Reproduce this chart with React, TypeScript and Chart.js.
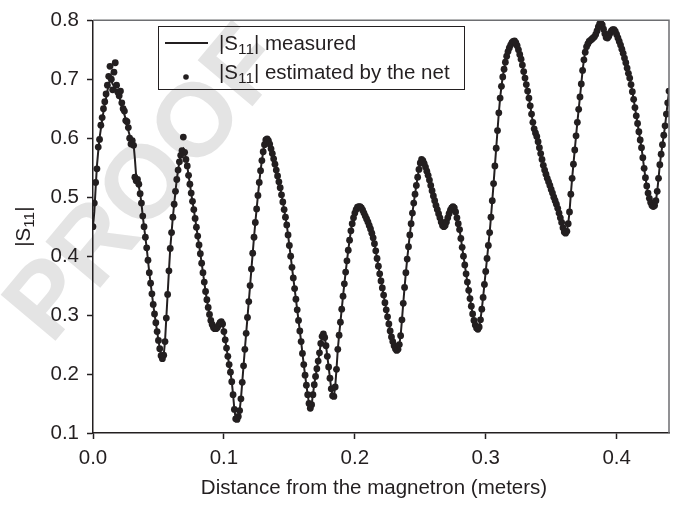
import React, { useEffect, useRef } from "react";
import { Chart, registerables } from "chart.js";

Chart.register(...registerables);

// ---- data ----
const DIST_STEP = 0.001; // metres between samples
const xTickValues = [0.0, 0.1, 0.2, 0.3, 0.4];
const yTickValues = [0.1, 0.2, 0.3, 0.4, 0.5, 0.6, 0.7, 0.8];
const xTitle = "Distance from the magnetron (meters)";
const legendMeasured = "measured";
const legendEstimated = "estimated by the net";
const watermarkText = "PROOF";

// |S11| measured (solid line), one value every 1 mm from 0.000 m to 0.440 m
const measured = [
  0.450, 0.475, 0.515, 0.553, 0.578, 0.600, 0.616, 0.631, 0.645, 0.658,
  0.668, 0.680, 0.692, 0.698, 0.697, 0.692, 0.688, 0.685, 0.680, 0.676,
  0.670, 0.663, 0.656, 0.648, 0.640, 0.632, 0.623, 0.613, 0.605, 0.598,
  0.593, 0.590, 0.565, 0.535, 0.526, 0.518, 0.506, 0.490, 0.468, 0.450,
  0.432, 0.414, 0.393, 0.372, 0.354, 0.336, 0.318, 0.302, 0.287, 0.272,
  0.257, 0.243, 0.231, 0.226, 0.232, 0.255, 0.295, 0.335, 0.375, 0.413,
  0.440, 0.466, 0.488, 0.510, 0.530, 0.546, 0.560, 0.571, 0.579, 0.582,
  0.576, 0.564, 0.553, 0.537, 0.522, 0.507, 0.493, 0.479, 0.464, 0.449,
  0.434, 0.419, 0.404, 0.388, 0.372, 0.356, 0.340, 0.326, 0.313, 0.301,
  0.291, 0.284, 0.279, 0.277, 0.277, 0.279, 0.283, 0.287, 0.289, 0.285,
  0.272, 0.258, 0.244, 0.230, 0.216, 0.203, 0.187, 0.165, 0.140, 0.124,
  0.123, 0.128, 0.138, 0.158, 0.186, 0.214, 0.242, 0.269, 0.296, 0.323,
  0.350, 0.378, 0.405, 0.432, 0.457, 0.480, 0.503, 0.525, 0.545, 0.562,
  0.577, 0.589, 0.597, 0.599, 0.596, 0.590, 0.582, 0.574, 0.565, 0.556,
  0.546, 0.536, 0.526, 0.516, 0.504, 0.492, 0.479, 0.466, 0.453, 0.436,
  0.418, 0.400, 0.381, 0.363, 0.345, 0.327, 0.309, 0.291, 0.273, 0.255,
  0.235, 0.216, 0.198, 0.181, 0.165, 0.150, 0.142, 0.148, 0.165, 0.182,
  0.196, 0.209, 0.222, 0.236, 0.252, 0.264, 0.268, 0.262, 0.248, 0.230,
  0.212, 0.193, 0.175, 0.163, 0.162, 0.178, 0.208, 0.242, 0.266, 0.288,
  0.310, 0.332, 0.353, 0.373, 0.392, 0.410, 0.427, 0.443, 0.455, 0.465,
  0.473, 0.479, 0.483, 0.484, 0.484, 0.482, 0.478, 0.473, 0.468, 0.463,
  0.458, 0.452, 0.446, 0.439, 0.431, 0.421, 0.409, 0.396, 0.383, 0.370,
  0.358, 0.346, 0.334, 0.321, 0.309, 0.297, 0.285, 0.273, 0.263, 0.255,
  0.248, 0.243, 0.240, 0.242, 0.250, 0.265, 0.292, 0.320, 0.347, 0.372,
  0.395, 0.416, 0.436, 0.455, 0.473, 0.490, 0.505, 0.520, 0.534, 0.547,
  0.558, 0.564, 0.562, 0.557, 0.551, 0.544, 0.537, 0.529, 0.520, 0.511,
  0.502, 0.494, 0.486, 0.479, 0.472, 0.465, 0.458, 0.452, 0.450, 0.452,
  0.458, 0.465, 0.472, 0.478, 0.482, 0.484, 0.482, 0.475, 0.465, 0.455,
  0.445, 0.430, 0.415, 0.400, 0.385, 0.370, 0.356, 0.342, 0.328, 0.315,
  0.302, 0.291, 0.283, 0.278, 0.276, 0.280, 0.292, 0.310, 0.330, 0.352,
  0.374, 0.396, 0.418, 0.440, 0.466, 0.494, 0.523, 0.553, 0.583, 0.613,
  0.643, 0.668, 0.688, 0.704, 0.717, 0.729, 0.739, 0.747, 0.753, 0.758,
  0.762, 0.764, 0.765, 0.762, 0.757, 0.750, 0.742, 0.734, 0.724, 0.713,
  0.702, 0.691, 0.680, 0.668, 0.655, 0.641, 0.627, 0.616, 0.609, 0.603,
  0.594, 0.584, 0.574, 0.564, 0.554, 0.546, 0.539, 0.532, 0.526, 0.520,
  0.513, 0.507, 0.500, 0.494, 0.488, 0.481, 0.473, 0.465, 0.457, 0.448,
  0.441, 0.439, 0.442, 0.455, 0.475, 0.505, 0.532, 0.556, 0.580, 0.604,
  0.627, 0.649, 0.670, 0.692, 0.715, 0.733, 0.746, 0.755, 0.760, 0.764,
  0.766, 0.768, 0.770, 0.772, 0.776, 0.782, 0.789, 0.794, 0.795, 0.792,
  0.785, 0.777, 0.771, 0.770, 0.773, 0.778, 0.782, 0.784, 0.784, 0.781,
  0.776, 0.770, 0.764, 0.758, 0.751, 0.744, 0.736, 0.728, 0.719, 0.710,
  0.702, 0.691, 0.679, 0.666, 0.652, 0.638, 0.625, 0.611, 0.597, 0.584,
  0.567, 0.549, 0.533, 0.519, 0.507, 0.498, 0.491, 0.486, 0.484, 0.486,
  0.494, 0.510, 0.532, 0.555, 0.573, 0.589, 0.605, 0.621, 0.641, 0.660,
  0.680,
];

// |S11| estimated by the net (dots), same sampling
const estimated = [
  0.450, 0.490, 0.525, 0.548, 0.585, 0.598, 0.622, 0.635, 0.650, 0.662,
  0.675, 0.690, 0.705, 0.722, 0.700, 0.682, 0.712, 0.728, 0.690, 0.678,
  0.672, 0.680, 0.660, 0.650, 0.646, 0.630, 0.628, 0.618, 0.600, 0.590,
  0.596, 0.588, 0.534, 0.528, 0.530, 0.522, 0.506, 0.490, 0.468, 0.450,
  0.432, 0.414, 0.393, 0.372, 0.354, 0.336, 0.318, 0.302, 0.287, 0.272,
  0.257, 0.243, 0.231, 0.226, 0.232, 0.255, 0.295, 0.335, 0.375, 0.413,
  0.440, 0.466, 0.488, 0.510, 0.530, 0.546, 0.560, 0.571, 0.579, 0.602,
  0.576, 0.564, 0.553, 0.537, 0.522, 0.507, 0.493, 0.479, 0.464, 0.449,
  0.434, 0.419, 0.404, 0.388, 0.372, 0.356, 0.340, 0.326, 0.313, 0.301,
  0.291, 0.284, 0.279, 0.277, 0.277, 0.279, 0.283, 0.287, 0.289, 0.285,
  0.272, 0.258, 0.244, 0.230, 0.216, 0.203, 0.187, 0.165, 0.140, 0.124,
  0.123, 0.128, 0.138, 0.158, 0.186, 0.214, 0.242, 0.269, 0.296, 0.323,
  0.350, 0.378, 0.405, 0.432, 0.457, 0.480, 0.503, 0.525, 0.545, 0.562,
  0.577, 0.589, 0.597, 0.599, 0.596, 0.590, 0.582, 0.574, 0.565, 0.556,
  0.546, 0.536, 0.526, 0.516, 0.504, 0.492, 0.479, 0.466, 0.453, 0.436,
  0.418, 0.400, 0.381, 0.363, 0.345, 0.327, 0.309, 0.291, 0.273, 0.255,
  0.235, 0.216, 0.198, 0.181, 0.165, 0.150, 0.142, 0.148, 0.165, 0.182,
  0.196, 0.209, 0.222, 0.236, 0.252, 0.264, 0.268, 0.262, 0.248, 0.230,
  0.212, 0.193, 0.175, 0.163, 0.162, 0.178, 0.208, 0.242, 0.266, 0.288,
  0.310, 0.332, 0.353, 0.373, 0.392, 0.410, 0.427, 0.443, 0.455, 0.465,
  0.473, 0.479, 0.483, 0.484, 0.484, 0.482, 0.478, 0.473, 0.468, 0.463,
  0.458, 0.452, 0.446, 0.439, 0.431, 0.421, 0.409, 0.396, 0.383, 0.370,
  0.358, 0.346, 0.334, 0.321, 0.309, 0.297, 0.285, 0.273, 0.263, 0.255,
  0.248, 0.243, 0.240, 0.242, 0.250, 0.265, 0.292, 0.320, 0.347, 0.372,
  0.395, 0.416, 0.436, 0.455, 0.473, 0.490, 0.505, 0.520, 0.534, 0.547,
  0.558, 0.564, 0.562, 0.557, 0.551, 0.544, 0.537, 0.529, 0.520, 0.511,
  0.502, 0.494, 0.486, 0.479, 0.472, 0.465, 0.458, 0.452, 0.450, 0.452,
  0.458, 0.465, 0.472, 0.478, 0.482, 0.484, 0.482, 0.475, 0.465, 0.455,
  0.445, 0.430, 0.415, 0.400, 0.385, 0.370, 0.356, 0.342, 0.328, 0.315,
  0.302, 0.291, 0.283, 0.278, 0.276, 0.280, 0.292, 0.310, 0.330, 0.352,
  0.374, 0.396, 0.418, 0.440, 0.466, 0.494, 0.523, 0.553, 0.583, 0.613,
  0.643, 0.668, 0.688, 0.704, 0.717, 0.729, 0.739, 0.747, 0.753, 0.758,
  0.762, 0.764, 0.765, 0.762, 0.757, 0.750, 0.742, 0.734, 0.724, 0.713,
  0.702, 0.691, 0.680, 0.668, 0.655, 0.641, 0.627, 0.616, 0.609, 0.603,
  0.594, 0.584, 0.574, 0.564, 0.554, 0.546, 0.539, 0.532, 0.526, 0.520,
  0.513, 0.507, 0.500, 0.494, 0.488, 0.481, 0.473, 0.465, 0.457, 0.448,
  0.441, 0.439, 0.442, 0.455, 0.475, 0.505, 0.532, 0.556, 0.580, 0.604,
  0.627, 0.649, 0.670, 0.692, 0.715, 0.733, 0.746, 0.755, 0.760, 0.764,
  0.766, 0.768, 0.770, 0.772, 0.776, 0.782, 0.789, 0.794, 0.795, 0.792,
  0.785, 0.777, 0.771, 0.770, 0.773, 0.778, 0.782, 0.784, 0.784, 0.781,
  0.776, 0.770, 0.764, 0.758, 0.751, 0.744, 0.736, 0.728, 0.719, 0.710,
  0.702, 0.691, 0.679, 0.666, 0.652, 0.638, 0.625, 0.611, 0.597, 0.584,
  0.567, 0.549, 0.533, 0.519, 0.507, 0.498, 0.491, 0.486, 0.484, 0.486,
  0.494, 0.510, 0.532, 0.555, 0.573, 0.589, 0.605, 0.621, 0.641, 0.660,
  0.680,
];

// ---- styling ----
const W = 681;
const H = 506;
const INK = "#231f20";
const FRAME_GRAY = "#6d6e71";
const FAMILY = "'Liberation Sans', Arial, Helvetica, sans-serif";
const TICK_SIZE = 20.5;
const TITLE_SIZE = 20.5;
const LEGEND_SIZE = 20.5;

type Piece = { t: string; sub?: boolean };

function richWidth(ctx: CanvasRenderingContext2D, pieces: Piece[], size: number) {
  let w = 0;
  for (const p of pieces) {
    ctx.font = `${p.sub ? size * 0.75 : size}px ${FAMILY}`;
    w += ctx.measureText(p.t).width;
  }
  return w;
}

function drawRich(ctx: CanvasRenderingContext2D, x: number, y: number, pieces: Piece[], size: number) {
  let cx = x;
  ctx.textAlign = "left";
  ctx.textBaseline = "alphabetic";
  for (const p of pieces) {
    ctx.font = `${p.sub ? size * 0.75 : size}px ${FAMILY}`;
    ctx.fillText(p.t, cx, p.sub ? y + size * 0.2 : y);
    cx += ctx.measureText(p.t).width;
  }
  return cx - x;
}

const S11: Piece[] = [{ t: "|S" }, { t: "11", sub: true }, { t: "|" }];

const watermarkPlugin = {
  id: "watermark",
  beforeDraw(chart: any) {
    const ctx = chart.ctx as CanvasRenderingContext2D;
    ctx.save();
    ctx.translate(148, 186);
    ctx.rotate((-50 * Math.PI) / 180);
    ctx.font = `bold 104px ${FAMILY}`;
    ctx.fillStyle = "#e4e4e4";
    ctx.textAlign = "center";
    ctx.textBaseline = "middle";
    ctx.fillText(watermarkText, 0, 0);
    ctx.restore();
  },
};

const decorPlugin = {
  id: "decor",
  afterDraw(chart: any) {
    const ctx = chart.ctx as CanvasRenderingContext2D;
    const a = chart.chartArea;
    ctx.save();
    // top and right frame
    ctx.strokeStyle = FRAME_GRAY;
    ctx.lineWidth = 1.5;
    ctx.beginPath();
    ctx.moveTo(a.left, a.top);
    ctx.lineTo(a.right, a.top);
    ctx.lineTo(a.right, a.bottom);
    ctx.stroke();

    ctx.fillStyle = INK;
    // x title
    ctx.font = `${TITLE_SIZE}px ${FAMILY}`;
    ctx.textAlign = "center";
    ctx.textBaseline = "alphabetic";
    ctx.fillText(xTitle, 374, 494);

    // y title (rotated)
    ctx.save();
    ctx.translate(30, (a.top + a.bottom) / 2);
    ctx.rotate(-Math.PI / 2);
    const yw = richWidth(ctx, S11, TITLE_SIZE);
    drawRich(ctx, -yw / 2, 0, S11, TITLE_SIZE);
    ctx.restore();

    // legend
    ctx.strokeStyle = INK;
    ctx.lineWidth = 1;
    ctx.strokeRect(158.5, 26.5, 306, 63);
    ctx.lineWidth = 2;
    ctx.beginPath();
    ctx.moveTo(165, 43);
    ctx.lineTo(208, 43);
    ctx.stroke();
    ctx.beginPath();
    ctx.arc(186, 77, 2.8, 0, Math.PI * 2);
    ctx.fill();
    const w1 = drawRich(ctx, 219, 50, S11, LEGEND_SIZE);
    ctx.font = `${LEGEND_SIZE}px ${FAMILY}`;
    ctx.fillText(" " + legendMeasured, 219 + w1, 50);
    const w2 = drawRich(ctx, 219, 79, S11, LEGEND_SIZE);
    ctx.font = `${LEGEND_SIZE}px ${FAMILY}`;
    ctx.fillText(" " + legendEstimated, 219 + w2, 79);
    ctx.restore();
  },
};

export default function App() {
  const ref = useRef<HTMLCanvasElement | null>(null);

  useEffect(() => {
    const canvas = ref.current;
    if (!canvas) return;
    const distances = measured.map((_, i) => Math.round(i * DIST_STEP * 1000) / 1000);
    const measuredPts = distances.map((x, i) => ({ x, y: measured[i] }));
    const estimatedPts = distances.map((x, i) => ({ x, y: estimated[i] }));

    const tickFont = { family: FAMILY, size: TICK_SIZE };

    const chart = new Chart(canvas, {
      type: "line",
      data: {
        datasets: [
          {
            label: "|S11| estimated by the net",
            data: estimatedPts,
            showLine: false,
            pointRadius: 3.4,
            pointBorderWidth: 0,
            pointBackgroundColor: INK,
            pointBorderColor: INK,
            order: 1,
          },
          {
            label: "|S11| measured",
            data: measuredPts,
            borderColor: INK,
            borderWidth: 2,
            pointRadius: 0,
            tension: 0,
            fill: false,
            order: 0,
          },
        ],
      },
      options: {
        responsive: false,
        animation: false,
        events: [],
        layout: { padding: { top: 17, right: 12, left: 0, bottom: 0 } },
        plugins: {
          legend: { display: false },
          tooltip: { enabled: false },
          title: { display: false },
        },
        scales: {
          x: {
            type: "linear",
            min: 0,
            max: 0.44,
            afterBuildTicks: (s: any) => {
              s.ticks = xTickValues.map((v) => ({ value: v }));
            },
            afterFit: (s: any) => {
              s.height = 73;
            },
            ticks: {
              font: tickFont,
              color: INK,
              padding: 7,
              maxRotation: 0,
              autoSkip: false,
              callback: (v: any) => Number(v).toFixed(1),
            },
            grid: {
              display: true,
              drawOnChartArea: false,
              drawTicks: true,
              tickLength: 6,
              tickWidth: 1.5,
              tickColor: INK,
              color: INK,
            },
            border: { display: true, color: INK, width: 1.5 },
          },
          y: {
            type: "linear",
            min: 0.1,
            max: 0.8,
            afterBuildTicks: (s: any) => {
              s.ticks = yTickValues.map((v) => ({ value: v }));
            },
            afterFit: (s: any) => {
              s.width = 93;
            },
            ticks: {
              font: tickFont,
              color: INK,
              padding: 8,
              autoSkip: false,
              callback: (v: any) => Number(v).toFixed(1),
            },
            grid: {
              display: true,
              drawOnChartArea: false,
              drawTicks: true,
              tickLength: 6,
              tickWidth: 1.5,
              tickColor: INK,
              color: INK,
            },
            border: { display: true, color: INK, width: 1.5 },
          },
        },
      } as any,
      plugins: [watermarkPlugin, decorPlugin],
    });

    return () => chart.destroy();
  }, []);

  return (
    <div style={{ position: "fixed", left: 0, top: 0, width: W, height: H, background: "#fff" }}>
      <canvas ref={ref} width={W} height={H} style={{ display: "block", width: W, height: H }} />
    </div>
  );
}
